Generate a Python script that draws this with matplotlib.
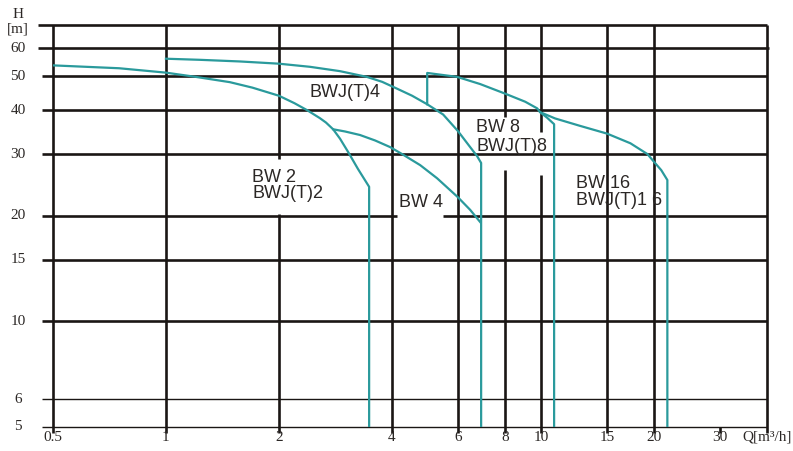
import matplotlib
matplotlib.use('Agg')
import matplotlib.pyplot as plt
from matplotlib.ticker import NullLocator

# pump curves, Q in m3/h, H in m (last point = drop to the axis floor)
bw2_q = [0.5, 0.75, 1.0, 1.2, 1.48, 1.7, 2.0, 2.2, 2.38, 2.57, 2.67, 2.79, 2.91, 3.06, 3.25, 3.48, 3.48]
bw2_h = [53.7, 52.7, 51.2, 49.8, 48.1, 46.4, 44.0, 41.9, 40.0, 38.0, 36.9, 35.3, 33.2, 30.4, 27.2, 24.2, 5]

bwj4_q = [1.0, 1.23, 1.575, 2.0, 2.42, 2.91, 3.43, 3.77, 4.11, 4.53, 4.97, 5.48, 6.0, 6.47, 6.75, 6.92, 6.92]
bwj4_h = [56.1, 55.7, 55.1, 54.3, 53.2, 51.7, 49.8, 48.2, 46.2, 44.0, 41.6, 38.9, 34.9, 31.4, 29.6, 28.3, 5]

bw4_q = [2.79, 3.0, 3.29, 3.61, 3.96, 4.26, 4.76, 5.28, 6.0, 6.47, 6.88]
bw4_h = [35.3, 34.8, 34.0, 32.8, 31.4, 30.0, 27.9, 25.6, 22.6, 20.8, 19.2]

bw8_q = [4.97, 4.97, 5.97, 6.88, 8.02, 9.07, 9.76, 9.94, 10.37, 10.83, 10.83]
bw8_h = [41.6, 51.1, 49.8, 47.5, 44.6, 42.3, 40.5, 39.5, 38.1, 36.5, 5]

bw16_q = [9.94, 10.9, 12.7, 15.0, 17.3, 19.2, 20.0, 20.9, 21.7, 21.7]
bw16_h = [39.5, 37.9, 36.1, 34.3, 32.2, 30.0, 28.5, 27.0, 25.3, 5]

x_ticks = [0.5, 1, 2, 4, 6, 8, 10, 15, 20, 30]
x_labels = ['0.5', '1', '2', '4', '6', '8', '10', '15', '20', '30']
y_ticks = [5, 6, 10, 15, 20, 30, 40, 50, 60]
y_labels = ['5', '6', '10', '15', '20', '30', '40', '50', '60']

teal = '#2a9a9c'
ink = '#1a1614'
txt = '#2b2725'

fig = plt.figure(figsize=(7.93, 4.51), dpi=100)
ax = fig.add_axes([53 / 793, 24 / 451, 714 / 793, 402 / 451])
ax.set_xscale('log')
ax.set_yscale('log')
ax.set_xlim(0.5, 40)
ax.set_ylim(5, 70)
ax.axis('off')
ax.xaxis.set_minor_locator(NullLocator())
ax.yaxis.set_minor_locator(NullLocator())

def seg(xs, ys, lw=1.9):
    ax.plot(xs, ys, color=ink, lw=lw, solid_capstyle='butt', clip_on=False, zorder=1)

# horizontal grid
for h in [5, 6]:
    seg([0.467, 40], [h, h], lw=1.0)
for h in [10, 15, 30, 40, 50]:
    seg([0.467, 40], [h, h])
seg([0.467, 4.13], [20, 20])
seg([5.48, 40], [20, 20])
seg([0.455, 40.6], [60, 60])
seg([0.455, 40], [70, 70])

# vertical grid
for q in [0.5, 1, 4, 6, 15, 20, 40]:
    seg([q, q], [4.8, 70])
seg([2, 2], [4.8, 20.3])
seg([2, 2], [29.0, 70])
seg([8, 8], [4.8, 27.0])
seg([8, 8], [38.2, 70])
seg([10, 10], [4.8, 26.2])
seg([10, 10], [34.7, 70])
seg([30, 30], [4.82, 5])

# curves
for qs, hs in [(bw2_q, bw2_h), (bwj4_q, bwj4_h), (bw4_q, bw4_h),
               (bw8_q, bw8_h), (bw16_q, bw16_h)]:
    ax.plot(qs, hs, color=teal, lw=1.6, solid_joinstyle='round', zorder=3)

# tick labels
tick_font = dict(family='Liberation Serif', fontsize=11, color=txt)
for v, s in zip(x_ticks, x_labels):
    ax.text(v, -0.026, s, transform=ax.get_xaxis_transform(),
            ha='center', va='center', **tick_font)
ax.text(40, -0.026, 'Q[m³/h]', transform=ax.get_xaxis_transform(),
        ha='center', va='center', **tick_font)
for v, s in zip(y_ticks, y_labels):
    ax.text(-0.049, v, s, transform=ax.get_yaxis_transform(),
            ha='center', va='center', **tick_font)
fig.text(18 / 793, 1 - 14 / 451, 'H', ha='center', va='center', **tick_font)
fig.text(18 / 793, 1 - 29 / 451, '[m]', ha='center', va='center', **tick_font)

# model labels
lab_font = dict(family='Liberation Sans', fontsize=13, color=txt, ha='left', va='center')
ax.text(2.41, 45.0, 'BWJ(T)4', **lab_font)
ax.text(1.70, 25.8, 'BW 2', **lab_font)
ax.text(1.70, 23.2, 'BWJ(T)2', **lab_font)
ax.text(4.18, 21.8, 'BW 4', **lab_font)
ax.text(6.71, 35.6, 'BW 8', **lab_font)
ax.text(6.71, 31.6, 'BWJ(T)8', **lab_font)
ax.text(12.4, 24.8, 'BW 16', **lab_font)
ax.text(12.4, 22.1, 'BWJ(T)1 6', **lab_font)

fig.savefig('out.png', dpi=100)
